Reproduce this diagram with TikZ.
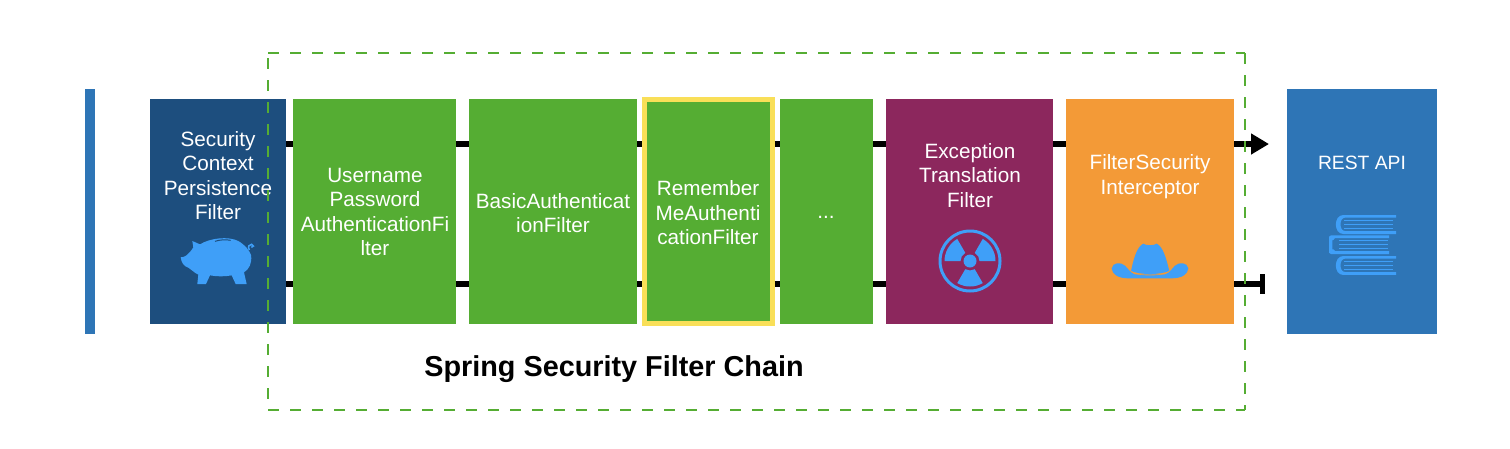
\documentclass[tikz,border=0pt]{standalone}
\usepackage{fontspec}
\setmainfont{Liberation Sans}
\usetikzlibrary{arrows.meta}
\definecolor{barblue}{HTML}{2E75B6}
\definecolor{navy}{HTML}{1D4E7E}
\definecolor{leaf}{HTML}{55AD33}
\definecolor{plum}{HTML}{8C275D}
\definecolor{amber}{HTML}{F39A37}
\definecolor{gold}{HTML}{F9DF58}
\definecolor{icon}{HTML}{3F9FF8}
\tikzset{
  x=1pt,y=-1pt,
  box/.style={anchor=north west,inner sep=0pt,outer sep=0pt,minimum height=225pt},
  label/.style={text=white,align=center,font=\fontsize{20.7}{24.5}\selectfont,inner sep=0pt},
  wire/.style={line width=6pt,black},
  zoomed/.style={x=.3333pt,y=-.3333pt},
  frame/.style={draw=leaf,line width=2pt,dash pattern=on 11pt off 11pt},
}
\newcommand{\blade}[1]{\fill[icon] (970,261) ++(#1:9.5pt) arc[start angle=#1,delta angle=60,radius=9.5pt] -- ++(#1+60:16pt) arc[start angle=#1+60,delta angle=-60,radius=25.5pt] -- cycle;}
\newcommand{\onebook}[6]{% x-right, x-left-outer, x-left-inner, y1 outer top, y outer bottom, line start
  \fill[icon] (#1,#4) -- (#2+25,#4) .. controls (#2-5,#4) and (#2-5,#5) .. (#2+25,#5) -- (#1,#5) -- (#1,#5-9) -- (#6,#5-9)
   .. controls (#3+2,#5-9) and (#3+2,#4+8) .. (#6,#4+8) -- (#1,#4+8) -- cycle;}
\begin{document}
\begin{tikzpicture}
\useasboundingbox (0,0) rectangle (1510,448);
\fill[white] (0,0) rectangle (1510,448);
% side bar and target
\node[box,fill=barblue,minimum width=10pt,minimum height=245pt] (bar) at (85,89) {};
\node[box,fill=barblue,minimum width=150pt,minimum height=245pt] (rest) at (1287,89) {};
% filters
\node[box,fill=navy,minimum width=136pt] (scp) at (150,99) {};
\node[box,fill=leaf,minimum width=163pt] (upa) at (293,99) {};
\node[box,fill=leaf,minimum width=168pt] (bas) at (469,99) {};
\node[box,fill=leaf,draw=gold,line width=5pt,outer sep=2.5pt,minimum width=127.5pt,minimum height=224pt] (rem) at (642,97) {};
\node[box,fill=leaf,minimum width=93pt] (dots) at (780,99) {};
\node[box,fill=plum,minimum width=167pt] (exc) at (886,99) {};
\node[box,fill=amber,minimum width=168pt] (fsi) at (1066,99) {};
% connectors
\foreach \a/\b in {scp/upa,upa/bas,bas/rem,rem/dots,dots/exc,exc/fsi}{
  \draw[wire] ([yshift=67.5pt]\a.east) -- ([yshift=67.5pt]\a.east -| \b.west);
  \draw[wire] ([yshift=-72.5pt]\a.east) -- ([yshift=-72.5pt]\a.east -| \b.west);
}
\coordinate (go) at (1269,144);
\coordinate (stop) at (1263,284);
\draw[wire,-{Triangle[length=18pt,width=20pt]}] ([yshift=67.5pt]fsi.east) -- (go);
\draw[wire] ([yshift=-72.5pt]fsi.east) -- (stop);
\coordinate (stopa) at (1262.5,274);
\coordinate (stopb) at (1262.5,294);
\draw[line width=5pt,black] (stopa) -- (stopb);
% labels
\node[label] (t1) at (218,175.5) {Security\\Context\\Persistence\\Filter};
\node[label] (t2) at (375,212) {Username\\Password\\AuthenticationFi\\lter};
\node[label] (t3) at (553,213) {BasicAuthenticat\\ionFilter};
\node[label] (t4) at (708,213) {Remember\\MeAuthenti\\cationFilter};
\node[label] (t5) at (826,217) {...};
\node[label] (t6) at (970,175.5) {Exception\\Translation\\Filter};
\node[label] (t7) at (1150,176.5) {FilterSecurity\\Interceptor};
\node[label,font=\fontsize{19.3}{24.5}\selectfont] (t8) at (1362,163) {REST API};
\node[font=\bfseries\fontsize{28.8}{32}\selectfont,inner sep=0pt] (title) at (614,369) {Spring Security Filter Chain};
% piggy bank
\begin{scope}[shift={(170,230)},zoomed]
\fill[icon] (32,82) .. controls (45,82) and (55,75) .. (70,52) -- (67,33) -- (90,43)
 .. controls (120,24) and (175,18) .. (205,33) .. controls (225,45) and (238,60) .. (243,75)
 .. controls (247,100) and (237,118) .. (222,127) -- (230,162) -- (197,162) -- (185,136)
 .. controls (165,140) and (140,140) .. (120,136) -- (108,162) -- (82,162) -- (85,134)
 .. controls (70,127) and (65,118) .. (55,113) .. controls (42,110) and (34,97) .. (32,82) -- cycle;
\draw[navy,line width=1pt] (135,34) .. controls (150,29) and (168,28) .. (182,31);
\draw[icon,line width=1.5pt] (238,60) .. controls (232,50) and (238,42) .. (245,43) .. controls (252,45) and (252,52) .. (244,52);
\end{scope}
% radiation sign
\draw[icon,line width=3pt] (970,261) circle[radius=30pt];
\fill[icon] (970,261) circle[radius=6.5pt];
\blade{0}\blade{120}\blade{240}
% cowboy hat
\begin{scope}[shift={(1100,235)},zoomed]
\fill[icon] (35,100) .. controls (38,82) and (62,80) .. (75,92) .. controls (85,102) and (90,112) .. (105,118)
 -- (195,118) .. controls (210,112) and (215,102) .. (225,92) .. controls (238,80) and (262,82) .. (265,100)
 .. controls (264,118) and (245,130) .. (215,130) -- (85,130) .. controls (55,130) and (36,118) .. (35,100) -- cycle;
\fill[icon] (93,108) .. controls (100,75) and (110,35) .. (130,26) .. controls (137,32) and (163,32) .. (170,26)
 .. controls (190,35) and (200,75) .. (208,108) .. controls (180,120) and (120,120) .. (93,108) -- cycle;
\draw[amber,line width=.6pt] (93,109) .. controls (105,124) and (195,124) .. (208,109);
\end{scope}
% books
\begin{scope}[shift={(1320,205)},zoomed]
\onebook{228}{45}{55}{30}{87}{75}
\onebook{228}{45}{55}{153}{210}{75}
\fill[icon] (207,91) -- (33,91) .. controls (27,91) and (27,96) .. (27,102) -- (27,136) .. controls (27,142) and (27,147) .. (33,147) -- (207,147) -- (207,138) -- (45,138) -- (40,133) -- (37,133) -- (37,105) -- (40,105) -- (45,99) -- (207,99) -- cycle;
\foreach \yy in {47,58,70}{\draw[icon,line width=1.1pt] (72,\yy) -- (220,\yy);}
\foreach \yy in {106,118,130}{\draw[icon,line width=1.1pt] (57,\yy) -- (203,\yy);}
\foreach \yy in {170,182,193}{\draw[icon,line width=1.1pt] (72,\yy) -- (220,\yy);}
\end{scope}
% chain frame
\coordinate (tl) at (268,53);
\coordinate (tr) at (1245,53);
\coordinate (bl) at (268,410);
\coordinate (br) at (1245,410);
\coordinate (ls) at (268,58);
\draw[frame] (tl) -- (tr);
\draw[frame] (tr) -- (br);
\draw[frame] (bl) -- (br);
\draw[frame] (ls) -- (bl);
\end{tikzpicture}
\end{document}
